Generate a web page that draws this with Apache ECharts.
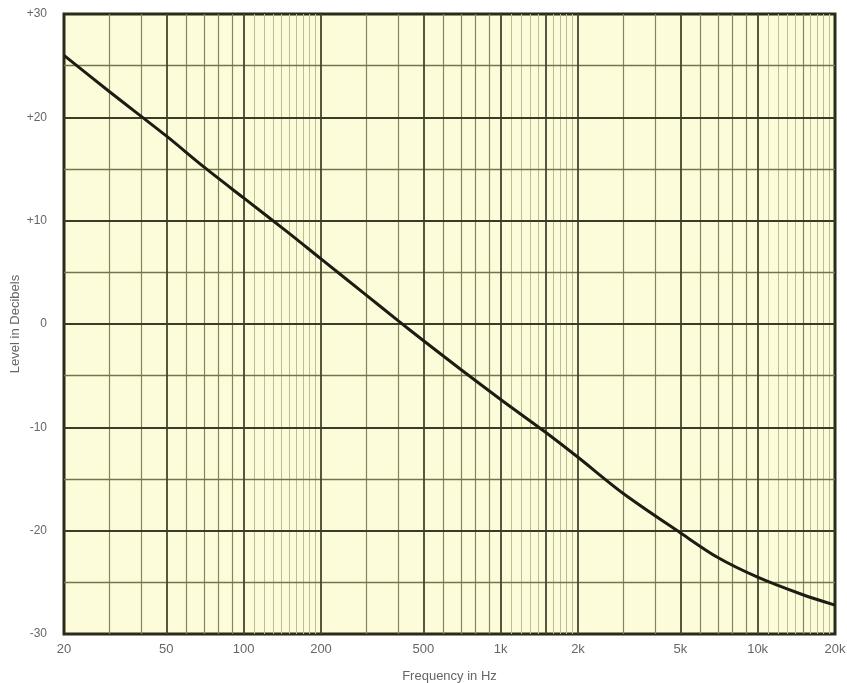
<!DOCTYPE html>
<html>
<head>
<meta charset="utf-8">
<script src="https://cdn.jsdelivr.net/npm/echarts@6/dist/echarts.min.js"></script>
<style>
  html, body { margin: 0; padding: 0; background: #fff; }
  #chart { width: 847px; height: 683px; }
</style>
</head>
<body>
<div id="chart"></div>
<script>
// response curve
const freqs = [20, 30, 50, 70, 100, 150, 200, 300, 400, 500, 700, 1000, 1500, 2000, 3000, 5000, 7000, 10000, 15000, 20000];
const levels = [26, 22.5, 18.2, 15.2, 12.2, 8.8, 6.3, 2.8, 0.3, -1.6, -4.4, -7.3, -10.5, -12.9, -16.4, -20.2, -22.6, -24.5, -26.2, -27.2];

// tick labels
const xTickValues = [20, 50, 100, 200, 500, 1000, 2000, 5000, 10000, 20000];
const xTickLabels = ['20', '50', '100', '200', '500', '1k', '2k', '5k', '10k', '20k'];
const yTickValues = [-30, -20, -10, 0, 10, 20, 30];
const yTickLabels = ['-30', '-20', '-10', '0', '+10', '+20', '+30'];

// graph-paper rulings
const heavyX = [50, 100, 200, 500, 1000, 1500, 2000, 5000, 10000];
const mediumX = [30, 40, 60, 70, 80, 90, 300, 400, 600, 700, 800, 900, 3000, 4000, 6000, 7000, 8000, 9000, 15000];
const lightX = [110, 120, 130, 140, 150, 160, 170, 180, 190,
  1100, 1200, 1300, 1400, 1600, 1700, 1800, 1900,
  11000, 12000, 13000, 14000, 16000, 17000, 18000, 19000];
const heavyY = [-20, -10, 0, 10, 20];
const mediumY = [-25, -15, -5, 5, 15, 25];

const chart = echarts.init(document.getElementById('chart'));

const ink = '#2b2b1a';
const fontFamily = '"Liberation Sans", Arial, sans-serif';

function rule(list, axis, color, width) {
  return list.map(v => ({ [axis]: v, lineStyle: { color, width, type: 'solid' } }));
}

const gridLines = [].concat(
  rule(lightX, 'xAxis', '#bdbd90', 1),
  rule(mediumX, 'xAxis', '#85855c', 1.2),
  rule(mediumY, 'yAxis', '#74744c', 1.3),
  rule(heavyX, 'xAxis', '#45452c', 1.8),
  rule(heavyY, 'yAxis', '#3c3c26', 2)
);

const option = {
  animation: false,
  grid: {
    left: 64,
    right: 12,
    top: 14,
    bottom: 49,
    outerBoundsMode: 'none',
    containLabel: false,
    show: true,
    backgroundColor: '#fdfcda',
    borderColor: ink,
    borderWidth: 3
  },
  xAxis: {
    type: 'log',
    logBase: 10,
    min: 20,
    max: 20000,
    name: 'Frequency in Hz',
    nameLocation: 'middle',
    nameGap: 36,
    nameMoveOverlap: false,
    nameTextStyle: { color: '#666', fontSize: 13, fontFamily },
    axisLine: { show: false },
    axisTick: { show: false },
    splitLine: { show: false },
    minorSplitLine: { show: false },
    axisLabel: {
      customValues: xTickValues,
      color: '#666',
      fontSize: 13,
      fontFamily,
      margin: 9,
      formatter: v => xTickLabels[xTickValues.indexOf(Math.round(v))] || ''
    }
  },
  yAxis: {
    type: 'value',
    min: -30,
    max: 30,
    interval: 10,
    name: 'Level in Decibels',
    nameLocation: 'middle',
    nameGap: 42,
    nameMoveOverlap: false,
    nameTextStyle: { color: '#666', fontSize: 13, fontFamily },
    axisLine: { show: false },
    axisTick: { show: false },
    splitLine: { show: false },
    axisLabel: {
      color: '#666',
      fontSize: 12,
      fontFamily,
      margin: 17,
      formatter: v => yTickLabels[yTickValues.indexOf(v)]
    }
  },
  series: [
    {
      type: 'line',
      data: freqs.map((f, i) => [f, levels[i]]),
      smooth: 0.3,
      symbol: 'none',
      lineStyle: { color: '#1c1c12', width: 3 },
      z: 5,
      markLine: {
        silent: true,
        symbol: 'none',
        label: { show: false },
        animation: false,
        data: gridLines
      }
    }
  ]
};

chart.setOption(option);
</script>
</body>
</html>
